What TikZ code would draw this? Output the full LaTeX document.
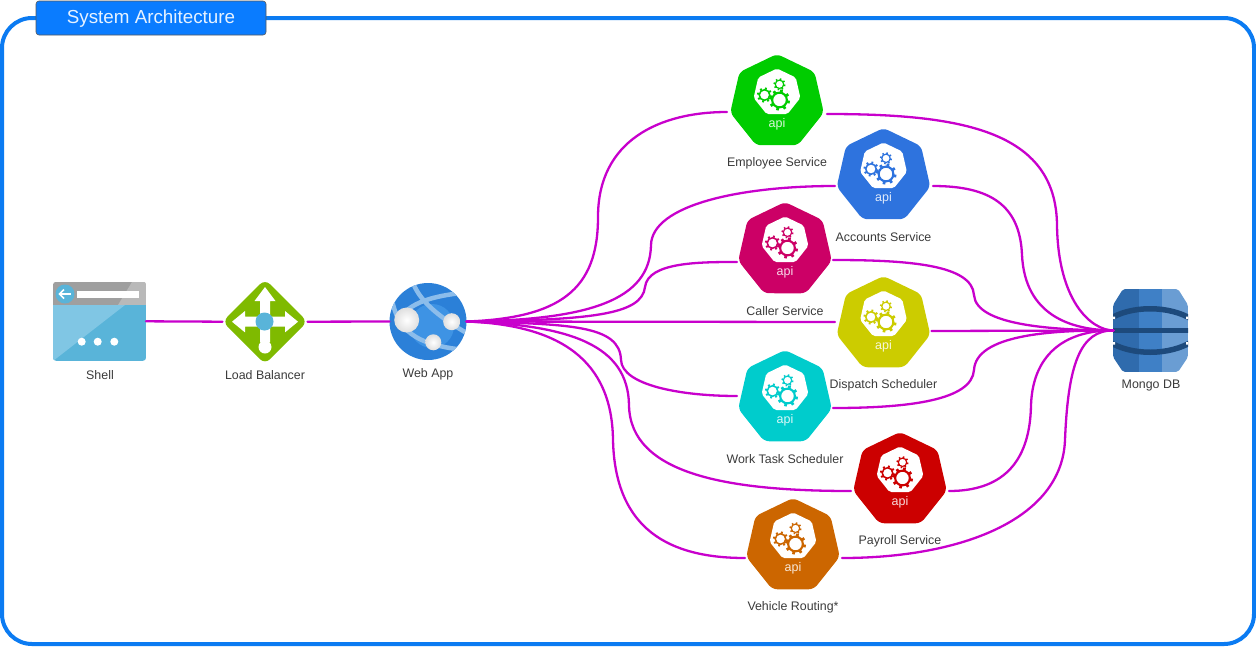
\documentclass[tikz,border=0pt]{standalone}
\usepackage{fontspec}
\setmainfont{Liberation Sans}
\usetikzlibrary{shapes.geometric,calc}
\definecolor{framec}{HTML}{0B7BF2}
\definecolor{titlec}{HTML}{0A7CFF}
\definecolor{linkc}{HTML}{C800CC}
\definecolor{textc}{HTML}{3A3A3A}
\definecolor{cemp}{HTML}{00CC00}
\definecolor{cacc}{HTML}{2E73DE}
\definecolor{ccal}{HTML}{CC0066}
\definecolor{cdis}{HTML}{CCCC00}
\definecolor{cwrk}{HTML}{00CCCC}
\definecolor{cpay}{HTML}{CC0000}
\definecolor{cveh}{HTML}{CC6600}
\definecolor{azure}{HTML}{59B4D9}
\definecolor{azurel}{HTML}{80C6E4}
\definecolor{lbgreen}{HTML}{7FBA00}
\definecolor{webblue}{HTML}{2B80D8}
\definecolor{webmid}{HTML}{3E93E4}
\definecolor{webband}{HTML}{8CBDEB}
\definecolor{dbl}{HTML}{2F6BAD}
\definecolor{dbm}{HTML}{3F80C6}
\definecolor{dbr}{HTML}{6A9DD3}
\definecolor{dbd}{HTML}{1D4A7C}
\tikzset{
  link/.style={draw=linkc,line width=2.3pt,line cap=round},
  lbl/.style={text=textc,font=\fontsize{12.4}{14}\selectfont,inner sep=0pt},
  hept/.style={regular polygon,regular polygon sides=7,minimum size=96pt,inner sep=0pt,outer sep=0pt,rounded corners=5pt,fill=#1},
  inhept/.style={regular polygon,regular polygon sides=7,minimum size=48pt,inner sep=0pt,outer sep=0pt,rounded corners=2pt,fill=white},
  apilbl/.style={text=white,text opacity=.85,font=\fontsize{12.5}{14}\selectfont,inner sep=0pt},
  icon/.style={inner sep=0pt,outer sep=0pt,minimum width=#1},
}
% gear: x, y, outer radius, colour
\newcommand{\gearicon}[4]{%
  \begin{scope}[shift={(#1,#2)}]
    \foreach \a in {0,45,...,315}{
      \draw[#4,line width=.26*#3 pt] (\a+12:.72*#3) -- (\a+12:#3);
    }
    \draw[#4,line width=.2*#3 pt,fill=white] (0,0) circle [radius=.7*#3];
  \end{scope}}
% service: name, cx, cy, colour, label, label y
\newcommand{\service}[6]{%
  \node[hept=#4] (#1) at (#2,#3) {};
  \node[inhept] (#1in) at (#2,#3-9.5) {};
  \gearicon{#2-12.5}{#3-7}{7.5}{#4}
  \gearicon{#2+2.5}{#3-17.7}{6}{#4}
  \gearicon{#2+2.5}{#3-2}{10.5}{#4}
  \node[apilbl] (#1api) at (#2,#3+22) {api};
  \node[lbl] (#1lbl) at (#2,#6+1) {#5};}
\begin{document}
\begin{tikzpicture}[x=1pt,y=-1pt]
\useasboundingbox (0,0) rectangle (1256,646);
% frame
\draw[framec,line width=4pt,rounded corners=30pt] (2,18) rectangle (1254,644);
\node[fill=titlec,draw=black!30!gray,line width=.6pt,rounded corners=3pt,minimum width=230pt,minimum height=34pt,inner sep=0pt,outer sep=0pt] (title) at (151,18) {};
\node[inner sep=0pt,text=white,text opacity=.9,font=\fontsize{18.8}{22}\selectfont] (titletxt) at (151,19) {System Architecture};

% services
\service{emp}{777}{102}{cemp}{Employee Service}{162}
\service{acc}{883.5}{176}{cacc}{Accounts Service}{236}
\service{cal}{785}{250}{ccal}{Caller Service}{310}
\service{dis}{883.5}{324}{cdis}{Dispatch Scheduler}{384}
\service{wrk}{785}{398}{cwrk}{Work Task Scheduler}{458}
\service{pay}{900}{480}{cpay}{Payroll Service}{540}
\service{veh}{793}{546}{cveh}{Vehicle Routing*}{606}

% shell icon
\node[icon=93pt,minimum height=79pt] (shell) at (99.5,321.3) {};
\begin{scope}
  \clip[rounded corners=3pt] (shell.north west) rectangle (shell.south east);
  \fill[gray!75] (shell.north west) rectangle (146,305);
  \fill[gray!55] (132,282) -- (146,282) -- (146,305) -- (118,305) -- cycle;
  \fill[azure] (53,305) rectangle (146,361);
  \fill[azurel] (53,305) -- (125,305) -- (53,361) -- cycle;
  \fill[white] (76.7,290.5) rectangle (139.3,297.5);
  \fill[azure] (65,294) circle [radius=9.5];
\end{scope}
\draw[white,line width=1.6pt] (70.5,294) -- (60,294);
\draw[white,line width=1.6pt] (64,289.5) -- (59.5,294) -- (64,298.5);
\foreach \x in {81.7,97.7,114.3} \fill[white] (\x,341.7) circle [radius=4];
\node[lbl] (shelllbl) at (100,375) {Shell};

% load balancer icon
\node[diamond,aspect=1,minimum width=85pt,minimum height=85pt,inner sep=0pt,outer sep=0pt,rounded corners=7pt,fill=lbgreen] (lb) at (265,321.7) {};
\fill[white] (265,287) -- (275.5,301) -- (270,301) -- (270,316.7) -- (285,316.7) -- (285,311) -- (298,321.7) -- (285,332.4) -- (285,326.7) -- (270,326.7) -- (270,342) -- (260,342) -- (260,326.7) -- (245,326.7) -- (245,332.4) -- (232,321.7) -- (245,311) -- (245,316.7) -- (260,316.7) -- (260,301) -- (254.5,301) -- cycle;
\fill[white] (265,347) circle [radius=6.5];
\fill[azure] (264.5,321.5) circle [radius=9];
\node[lbl] (lblb) at (265,375) {Load Balancer};

% web app icon
\node[circle,minimum size=77pt,inner sep=0pt,outer sep=0pt,fill=webblue] (web) at (428,321.5) {};
\begin{scope}
  \clip (428,321.5) circle [radius=38.5];
  \fill[webmid] (432,326) circle [radius=22];
  \draw[webband,line width=4.5pt] (413,283) .. controls (420,300) and (435,315) .. (470,335);
  \draw[webband,line width=4.5pt] (400,318) .. controls (412,300) and (440,295) .. (470,292);
  \draw[webband,line width=4.5pt] (392,300) .. controls (398,330) and (415,345) .. (465,350);
\end{scope}
\shade[inner color=white,outer color=gray!25] (406.7,320) circle [radius=12.5];
\shade[inner color=white,outer color=gray!25] (451.7,321.7) circle [radius=8.5];
\shade[inner color=white,outer color=gray!25] (433.3,342.3) circle [radius=8];
\node[lbl] (weblbl) at (428,374) {Web App};

% database icon
\node[icon=75pt,minimum height=83pt] (db) at (1151,330.5) {};
\begin{scope}
  \clip[rounded corners=2pt] (1123,289) -- (1178,289) -- (1188,305) -- (1188,357) -- (1178,372) -- (1123,372) -- (1113,357) -- (1113,305) -- cycle;
  \fill[dbl] (1113,289) rectangle (1139,372);
  \fill[dbm] (1139,289) rectangle (1162,372);
  \fill[dbr] (1162,289) rectangle (1188,372);
  \draw[dbd,line width=5.5pt] (1108,320) .. controls (1130,305) and (1170,305) .. (1193,320);
  \draw[dbd,line width=5.5pt] (1108,330.5) -- (1193,330.5);
  \draw[dbd,line width=5.5pt] (1108,341) .. controls (1130,356) and (1170,356) .. (1193,341);
  \fill[white] (1113,316.5) rectangle (1115,319) (1186,316.5) rectangle (1188,319);
  \fill[white] (1113,342) rectangle (1115,344.5) (1186,342) rectangle (1188,344.5);
\end{scope}
\node[lbl] (dblbl) at (1151,386) {Mongo DB};

% connectors
\draw[link] (shell.east) -- (lb.west);
\draw[link] (lb.east) -- (web.west);
\coordinate (wb) at (web.east);
\coordinate (mg) at (db.west);
\draw[link] (wb) .. controls (560,318) and (598,290) .. (598,217) .. controls (598,140) and (660,112) .. ([shift={(-50,10)}]emp.center);
\draw[link] (wb) .. controls (590,320) and (650,300) .. (651,245) .. controls (652,205) and (740,186) .. ([shift={(-48.5,10)}]acc.center);
\draw[link] (wb) .. controls (590,320) and (642,315) .. (645,287) .. controls (648,262) and (700,262) .. ([shift={(-48,12)}]cal.center);
\draw[link] (wb) -- ([shift={(-48.5,-2)}]dis.center);
\draw[link] (wb) .. controls (570,324) and (620,325) .. (621,360) .. controls (622,385) and (680,396) .. ([shift={(-48,-2)}]wrk.center);
\draw[link] (wb) .. controls (570,325) and (628,345) .. (629,405) .. controls (630,475) and (730,491) .. ([shift={(-49,11)}]pay.center);
\draw[link] (wb) .. controls (560,325) and (612,360) .. (613,440) .. controls (615,530) and (670,558) .. ([shift={(-48,12)}]veh.center);

\draw[link] ([shift={(50,12)}]emp.center) .. controls (960,114) and (1056,130) .. (1057,225) .. controls (1058,300) and (1090,330) .. (mg);
\draw[link] ([shift={(49.5,10)}]acc.center) .. controls (990,186) and (1020,205) .. (1022,255) .. controls (1025,315) and (1070,330) .. (mg);
\draw[link] ([shift={(48,10)}]cal.center) .. controls (910,260) and (972,265) .. (974,295) .. controls (976,325) and (1050,330) .. (mg);
\draw[link] ([shift={(48,7)}]dis.center) -- (mg);
\draw[link] ([shift={(48,10)}]wrk.center) .. controls (910,408) and (972,400) .. (974,370) .. controls (976,335) and (1050,330) .. (mg);
\draw[link] ([shift={(49,11)}]pay.center) .. controls (1000,491) and (1030,465) .. (1031,405) .. controls (1033,350) and (1070,330) .. (mg);
\draw[link] ([shift={(49,12)}]veh.center) .. controls (960,558) and (1062,520) .. (1065,440) .. controls (1068,365) and (1080,330) .. (mg);
\end{tikzpicture}
\end{document}
